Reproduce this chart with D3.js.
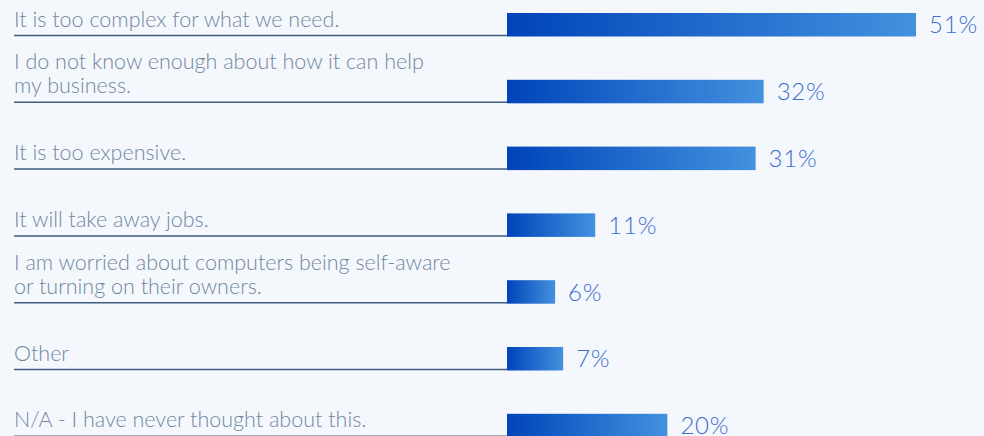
<!DOCTYPE html>
<html lang="en">
<head>
    <meta charset="UTF-8">
    <title>Reasons not to use AI</title>
    <script src="https://d3js.org/d3.v7.min.js"></script>
    <style>
        body {
            margin: 0;
            overflow: hidden;
            background: #f4f7fc;
        }
        .label {
            font: 300 21.5px Lato, sans-serif;
            fill: #71879f;
        }
        .value {
            font: 300 24px Lato, sans-serif;
            letter-spacing: 0.8px;
            fill: #3b6ecb;
        }
        .rule {
            stroke: #3f5c7d;
            stroke-width: 1.5px;
        }
    </style>
</head>
<body>
    <script>
        const width = 984;
        const height = 436;

        // answers, each split into its display lines
        const categories = [
            "It is too complex for what we need.",
            "I do not know enough about how it can help my business.",
            "It is too expensive.",
            "It will take away jobs.",
            "I am worried about computers being self-aware or turning on their owners.",
            "Other",
            "N/A - I have never thought about this."
        ];
        const labelLines = [
            ["It is too complex for what we need."],
            ["I do not know enough about how it can help", "my business."],
            ["It is too expensive."],
            ["It will take away jobs."],
            ["I am worried about computers being self-aware", "or turning on their owners."],
            ["Other"],
            ["N/A - I have never thought about this."]
        ];
        const values = [51, 32, 31, 11, 6, 7, 20];

        const data = categories.map((c, i) => ({ cat: c, lines: labelLines[i], value: values[i] }));

        const svg = d3.select("body").append("svg")
            .attr("width", width)
            .attr("height", height);

        const grad = svg.append("defs").append("linearGradient")
            .attr("id", "barGrad")
            .attr("x1", "0%").attr("x2", "100%")
            .attr("y1", "0%").attr("y2", "0%");
        grad.append("stop").attr("offset", "0%").attr("stop-color", "#0044b9");
        grad.append("stop").attr("offset", "100%").attr("stop-color", "#4391df");

        const barLeft = 507;
        const x = d3.scaleLinear().domain([0, 51]).range([barLeft, 916]);

        const step = 66.8, bw = 23.5;
        const y = d3.scaleBand()
            .domain(categories)
            .range([13, 13 + 7 * step - (step - bw)])
            .paddingInner(1 - bw / step)
            .paddingOuter(0);

        const row = svg.append("g").selectAll("g")
            .data(data)
            .join("g");

        // underline from label to bar start
        row.append("line")
            .attr("class", "rule")
            .attr("x1", 14)
            .attr("x2", barLeft)
            .attr("y1", d => y(d.cat) + y.bandwidth() - 1)
            .attr("y2", d => y(d.cat) + y.bandwidth() - 1);

        row.append("rect")
            .attr("x", barLeft)
            .attr("y", d => y(d.cat))
            .attr("width", d => x(d.value) - barLeft)
            .attr("height", y.bandwidth())
            .attr("fill", "url(#barGrad)");

        row.append("text")
            .attr("class", "value")
            .attr("x", d => x(d.value) + 13)
            .attr("y", d => y(d.cat) + y.bandwidth() / 2)
            .attr("dy", "0.36em")
            .text(d => d.value + "%");

        const label = row.append("text")
            .attr("class", "label")
            .attr("x", 14)
            .attr("y", d => y(d.cat) + y.bandwidth() - 10 - (d.lines.length - 1) * 24);

        label.selectAll("tspan")
            .data(d => d.lines)
            .join("tspan")
            .attr("x", 14)
            .attr("dy", (t, i) => i === 0 ? 0 : 24)
            .text(t => t);
    </script>
</body>
</html>
